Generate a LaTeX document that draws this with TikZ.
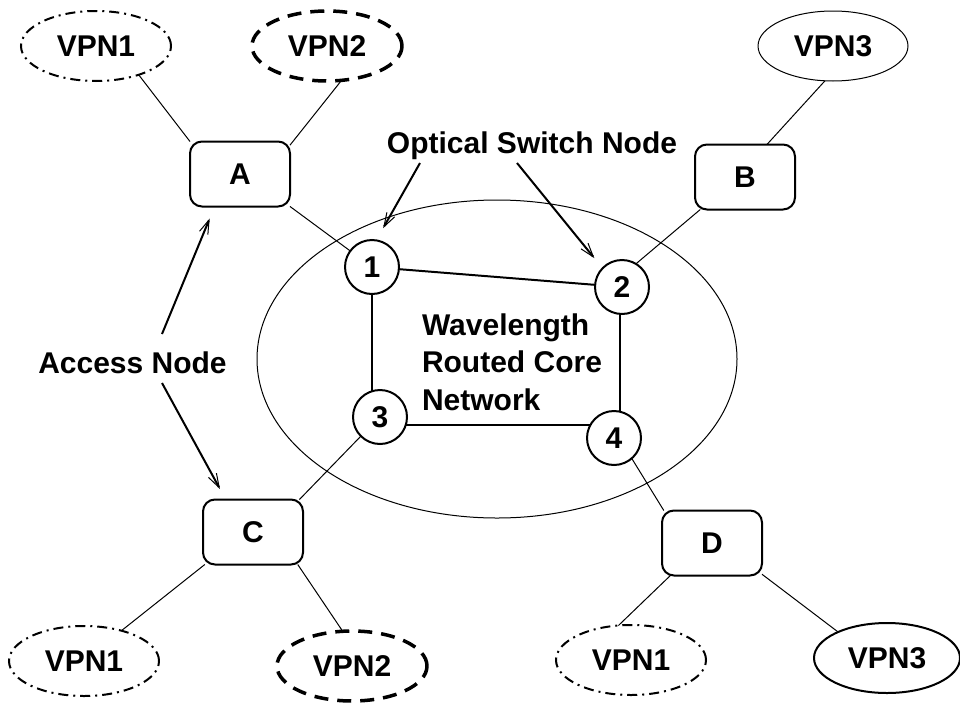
\documentclass[tikz,border=0pt]{standalone}
\usepackage{fontspec}
\setmainfont{Liberation Sans}
\usetikzlibrary{shapes.geometric,arrows.meta,calc}
\pgfdeclarelayer{bg}
\pgfsetlayers{bg,main}

\begin{document}
\begin{tikzpicture}[x=1pt,y=-1pt,
  every node/.style={font=\fontsize{30}{37.5}\selectfont\bfseries, inner sep=0pt, outer sep=0pt},
  vpn/.style={ellipse, minimum width=150pt, minimum height=70pt},
  dashdotline/.style={draw, line width=2pt, dash pattern=on 10pt off 5pt on 2pt off 5pt},
  dashline/.style={draw, line width=3.5pt, dash pattern=on 14pt off 9pt},
  box/.style={draw, line width=2pt, rounded corners=12pt, minimum width=100pt, minimum height=65pt, fill=white},
  sw/.style={circle, draw, line width=2pt, minimum size=54pt, fill=white},
  thinline/.style={line width=1pt},
  ring/.style={line width=2pt},
  arr/.style={line width=2pt, -{Straight Barb[length=14pt,width=9pt,line width=1pt]}}
]
\useasboundingbox (0,0) rectangle (960,704);

% core network boundary
\node[ellipse, draw, line width=1pt, minimum width=480pt, minimum height=318pt] (core) at (497,359) {};

% VPN sites
\node[vpn, dashdotline] (v1a) at (96,46) {VPN1};
\node[vpn, dashline] (v2a) at (327,46) {VPN2};
\node[vpn, draw, line width=1pt] (v3a) at (833,46) {VPN3};
\node[vpn, dashdotline] (v1b) at (84,661) {VPN1};
\node[vpn, dashline] (v2b) at (352,666) {VPN2};
\node[vpn, dashdotline] (v1c) at (631,660) {VPN1};
\node[vpn, draw, line width=2pt, minimum width=146pt] (v3b) at (887,658) {VPN3};

% access nodes
\node[box] (A) at (240,174) {A};
\node[box] (B) at (745,177) {B};
\node[box] (C) at (253,532) {C};
\node[box] (D) at (712,543) {D};

% optical switch nodes
\node[sw] (c1) at (372,267) {1};
\node[sw] (c2) at (622,287) {2};
\node[sw] (c3) at (380,417) {3};
\node[sw] (c4) at (614,438) {4};

% labels
\node[anchor=base] (acc) at (132.5,373) {Access Node};
\node[anchor=base] (osn) at (532,153) {Optical Switch Node};
\node[anchor=north west, align=left] (wrc) at (422,313.5) {Wavelength\\Routed Core\\Network};

% site links
\draw[thinline] (v1a.-34) -- (A.147);
\draw[thinline] (v2a.-67) -- (A.30);
\draw[thinline] (v3a.-103) -- (B.56);
\draw[thinline] (A.-33) -- (c1);
\draw[thinline] (B.-144) -- (c2.59);
\draw[thinline] (c3.-135) -- (C.35);
\draw[thinline] (c4.-49) -- (D.146);
\draw[thinline] (C.-146) -- (v1b.39);
\draw[thinline] (C.-36) -- (v2b.105);
\draw[thinline] (D.-142) -- (v1c.110);
\draw[thinline] (D.-32) -- (v3b.152);

% core ring
\draw[ring] (c1) -- (c2);
\begin{pgfonlayer}{bg}
  \draw[ring] (c1.center) -- (c1.center |- c3.center);
  \draw[ring] ([xshift=-2pt]c2.center) -- ([xshift=-2pt]c2.center |- c4.center);
  \draw[ring] ([yshift=-8pt]c3.center) -- ([yshift=-8pt]c3.center -| c4.center);
\end{pgfonlayer}

% label pointers
\coordinate (accU) at (162,334);
\coordinate (accD) at (162,383);
\coordinate (osL) at (420,163);
\coordinate (osR) at (517,163);
\draw[arr, shorten >=13pt] (accU) -- (A.-128);
\draw[arr, shorten >=12pt] (accD) -- (C.130);
\draw[arr, shorten >=14pt] (osL) -- (c1.81);
\draw[arr, shorten >=13pt] (osR) -- (c2.136);
\end{tikzpicture}
\end{document}
